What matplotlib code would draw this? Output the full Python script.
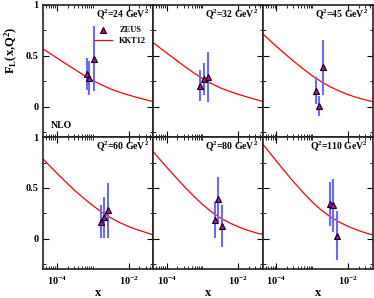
import numpy as np
import matplotlib
matplotlib.use("Agg")
import matplotlib.pyplot as plt
from matplotlib.ticker import FixedLocator, NullFormatter

plt.rcParams['font.family'] = ['Liberation Serif', 'DejaVu Serif']
plt.rcParams['font.weight'] = 'bold'
plt.rcParams['axes.labelweight'] = 'bold'
plt.rcParams['mathtext.fontset'] = 'custom'
plt.rcParams['mathtext.rm'] = 'Liberation Serif:bold'
plt.rcParams['mathtext.it'] = 'Liberation Serif:bold'
plt.rcParams['mathtext.bf'] = 'Liberation Serif:bold'

# Q^2 bins (GeV^2)
q2 = [24, 32, 45, 60, 80, 110]

# ZEUS F_L points per bin
zeus_x = [[6.7e-4, 8.0e-4, 1.1e-3],
          [8.8e-4, 1.09e-3, 1.4e-3],
          [1.3e-3, 1.58e-3, 2.05e-3],
          [1.68e-3, 2.09e-3, 2.7e-3],
          [2.18e-3, 2.7e-3, 3.5e-3],
          [3.14e-3, 3.8e-3, 5.07e-3]]
zeus_fl = [[0.32, 0.28, 0.47],
           [0.206, 0.27, 0.29],
           [0.157, 0.003, 0.385],
           [0.17, 0.21, 0.28],
           [0.186, 0.39, 0.127],
           [0.34, 0.33, 0.03]]
zeus_err = [[0.16, 0.17, 0.32],
            [0.155, 0.16, 0.25],
            [0.135, 0.10, 0.27],
            [0.16, 0.20, 0.27],
            [0.18, 0.22, 0.21],
            [0.215, 0.26, 0.24]]

# KKT12 NLO curves, read at quarter decades
kkt_x = [4.27e-5, 5.62e-5, 1e-4, 1.78e-4, 3.16e-4, 5.62e-4, 1e-3,
         1.78e-3, 3.16e-3, 5.62e-3, 1e-2, 1.78e-2, 3.16e-2, 4.79e-2]
kkt_fl = [[0.563, 0.535, 0.477, 0.420, 0.364, 0.308, 0.256,
           0.212, 0.172, 0.140, 0.113, 0.088, 0.065, 0.049],
          [0.627, 0.594, 0.527, 0.461, 0.395, 0.333, 0.275,
           0.225, 0.183, 0.150, 0.120, 0.093, 0.068, 0.050],
          [0.713, 0.672, 0.592, 0.515, 0.440, 0.370, 0.303,
           0.245, 0.195, 0.153, 0.117, 0.088, 0.064, 0.049],
          [0.780, 0.735, 0.645, 0.558, 0.475, 0.398, 0.327,
           0.263, 0.207, 0.160, 0.121, 0.088, 0.060, 0.040],
          [0.856, 0.805, 0.705, 0.607, 0.512, 0.422, 0.338,
           0.265, 0.205, 0.158, 0.118, 0.085, 0.058, 0.045],
          [0.928, 0.875, 0.765, 0.657, 0.553, 0.455, 0.363,
           0.283, 0.218, 0.166, 0.123, 0.087, 0.057, 0.040]]

fig, axes = plt.subplots(2, 3, figsize=(3.74, 2.98), dpi=100, sharex=True, sharey=True)
fig.subplots_adjust(left=0.116, right=0.996, top=0.984, bottom=0.096, wspace=0, hspace=0)

minor_x = [5e-5, 6e-5, 7e-5, 8e-5, 9e-5] + [k * 1e-4 for k in range(2, 10)] + [1e-3] + [2e-2, 3e-2, 4e-2]

for i, ax in enumerate(axes.flat):
    ax.plot(kkt_x, kkt_fl[i], color='red', lw=0.9, label='KKT12')
    ax.errorbar(zeus_x[i], zeus_fl[i], yerr=zeus_err[i], fmt='none',
                ecolor='#6a6af8', elinewidth=1.5, capsize=0)
    ax.plot(zeus_x[i], zeus_fl[i], '^', ms=4.5, mfc='#c000c0', mec='black',
            mew=0.8, ls='none', label='ZEUS')
    ax.set_xscale('log')
    ax.set_xlim(4.2e-5, 4.8e-2)
    ax.set_ylim(-0.3, 1.0)
    ax.xaxis.set_major_locator(FixedLocator([1e-4, 1e-2]))
    ax.xaxis.set_minor_locator(FixedLocator(minor_x))
    ax.xaxis.set_minor_formatter(NullFormatter())
    ax.set_xticklabels([r'10$^{-4}$', r'10$^{-2}$'])
    ax.yaxis.set_major_locator(FixedLocator([0, 0.5, 1]))
    ax.yaxis.set_minor_locator(FixedLocator([-0.25, 0.25, 0.75]))
    ax.set_yticklabels(['0', '0.5', '1'])
    ax.tick_params(which='both', direction='in', top=True, right=True, labelsize=7.5)
    ax.tick_params(which='major', length=4, width=0.8)
    ax.tick_params(which='minor', length=2.5, width=0.6)
    for s in ax.spines.values():
        s.set_linewidth(1.2)
        s.set_color('#222222')
    ax.text(0.96, 0.93, r'Q$^2$=%d GeV$^2$' % q2[i], transform=ax.transAxes,
            ha='right', va='center', fontsize=7)

axes[0, 0].text(0.07, 0.09, 'NLO', transform=axes[0, 0].transAxes,
                ha='left', va='center', fontsize=7)
h, l = axes[0, 0].get_legend_handles_labels()
axes[0, 0].legend([h[1], h[0]], [l[1], l[0]], loc='upper right',
                  bbox_to_anchor=(0.99, 0.88), frameon=False, fontsize=6,
                  handlelength=2.2, handletextpad=0.8, labelspacing=0.3,
                  borderpad=0.2)

for ax in axes[1]:
    ax.set_xlabel('x', fontsize=9, fontweight='bold', labelpad=0)

fig.text(0.03, 0.83, r'F$_\mathrm{L}$(x,Q$^2$)', rotation=90, ha='center',
         va='center', fontsize=9)

fig.savefig('out.png', dpi=100)
